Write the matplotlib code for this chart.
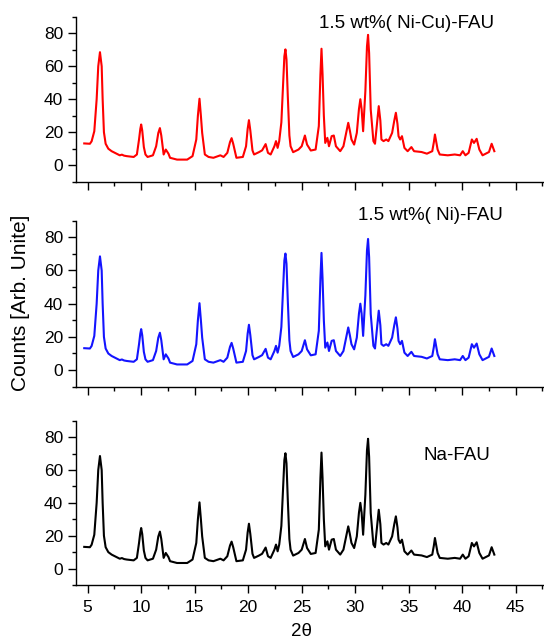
import numpy as np
import matplotlib
matplotlib.use('Agg')
import matplotlib.pyplot as plt
from matplotlib.ticker import MultipleLocator

# XRD pattern (same pattern in all three panels)
two_theta = [4.68, 5.21, 5.37, 5.62, 5.84, 5.99, 6.15, 6.31, 6.40, 6.52, 6.68, 6.93, 7.24,
             7.7, 8.0, 8.2, 8.4, 8.65, 9.3, 9.6,
             9.8, 9.92, 10.0, 10.1, 10.25, 10.4, 10.6, 11.1, 11.4, 11.6, 11.75, 11.88,
             11.97, 12.1, 12.3, 12.55, 12.7,
             13.35, 14.3, 14.8, 15.15, 15.3, 15.45, 15.58, 15.7, 15.95, 16.3, 16.75, 17.4,
             17.7, 18.05, 18.3, 18.45, 18.6, 18.9, 19.5, 19.8, 19.95, 20.07, 20.2, 20.4,
             20.55, 21.0, 21.3, 21.63, 21.85,
             22.1, 22.45, 22.6, 22.75, 22.9, 23.1, 23.25, 23.38, 23.48, 23.58, 23.7, 23.85,
             23.96, 24.2, 24.7, 25.0, 25.3, 25.5, 25.85, 26.3, 26.6, 26.75, 26.85, 26.95,
             27.07, 27.2, 27.4, 27.55, 27.8, 28.0, 28.2, 28.6, 28.9, 29.2, 29.35, 29.5,
             29.65, 29.9, 30.15, 30.35, 30.48, 30.6, 30.74, 30.95, 31.1, 31.2, 31.3, 31.45,
             31.7, 31.85, 32.05, 32.2, 32.35, 32.45, 32.65, 32.9, 33.1, 33.45, 33.65, 33.8,
             33.95, 34.05, 34.2, 34.37, 34.6, 34.9, 35.25, 35.5, 36.2, 36.7, 37.2, 37.35,
             37.45, 37.55, 37.7, 37.9, 38.65, 39.3, 39.8, 40.05, 40.3, 40.6, 40.9, 41.1,
             41.35, 41.6, 41.9, 42.2, 42.5, 42.75, 43.0]
counts = [13.2, 13.0, 14.5, 20.6, 40.0, 60.0, 68.5, 60.0, 40.0, 20.0, 13.0, 10.0, 8.5,
          7.0, 6.0, 6.4, 5.8, 5.5, 5.0, 6.5,
          15.6, 22.0, 24.7, 21.0, 11.0, 6.5, 5.0, 6.0, 11.5, 19.5, 22.5, 18.0,
          13.5, 6.5, 9.5, 7.0, 4.5,
          3.4, 3.4, 5.5, 15.6, 30.0, 40.3, 30.0, 19.6, 6.5, 5.0, 4.5, 6.0,
          5.0, 7.5, 14.0, 16.4, 13.0, 4.5, 5.0, 11.5, 22.0, 27.3, 21.0, 9.0,
          6.5, 7.9, 9.0, 12.8, 7.5,
          6.5, 11.5, 14.6, 10.5, 14.6, 26.0, 48.0, 66.0, 70.2, 64.0, 42.0, 18.0,
          11.5, 7.9, 9.5, 11.5, 18.0, 12.5, 8.9, 9.5, 23.7, 55.0, 70.6, 55.0,
          30.0, 13.5, 16.6, 11.5, 17.6, 18.0, 11.5, 8.5, 11.5, 21.0, 25.7, 21.0,
          15.6, 12.5, 19.6, 34.0, 40.0, 34.0, 20.6, 45.0, 72.0, 79.0, 68.0, 33.8,
          14.6, 13.0, 26.0, 35.8, 27.0, 15.6, 14.6, 15.6, 14.6, 19.6, 27.0, 31.8,
          25.0, 17.6, 15.6, 17.6, 10.5, 8.5, 11.0, 8.5, 8.0, 7.0, 8.5, 14.0,
          18.6, 15.0, 9.5, 6.5, 6.0, 6.5, 6.0, 8.5, 6.0, 7.5, 15.6, 13.5,
          16.0, 9.5, 6.0, 7.0, 8.0, 13.0, 8.5]

labels = ['1.5 wt%( Ni-Cu)-FAU', '1.5 wt%( Ni)-FAU', 'Na-FAU']
colors = ['#ff0000', '#1414ff', '#000000']
label_pos = [(0.707, 0.956), (0.760, 1.034), (0.815, 0.791)]

plt.rcParams['font.family'] = ['Liberation Sans', 'DejaVu Sans']

fig = plt.figure(figsize=(5.44, 6.43), dpi=100)
boxes = [[0.1397, 0.7174, 0.8585, 0.2566],
         [0.1397, 0.3986, 0.8585, 0.2582],
         [0.1397, 0.0902, 0.8585, 0.2555]]

for i in range(3):
    ax = fig.add_axes(boxes[i])
    ax.plot(two_theta, counts, color=colors[i], lw=1.5)
    ax.set_xlim(3.91, 47.55)
    ax.set_ylim(-10, 90)
    ax.spines['top'].set_visible(False)
    ax.spines['right'].set_visible(False)
    ax.spines['left'].set_linewidth(1.0)
    ax.spines['bottom'].set_linewidth(1.0)
    ax.xaxis.set_major_locator(MultipleLocator(5))
    ax.xaxis.set_minor_locator(MultipleLocator(2.5))
    ax.set_yticks([0, 20, 40, 60, 80])
    ax.yaxis.set_minor_locator(MultipleLocator(10))
    ax.tick_params(which='major', direction='out', length=5.8, width=1.0, labelsize=12.5)
    ax.tick_params(which='minor', direction='out', length=3.2, width=1.0)
    ax.tick_params(axis='x', which='major', pad=5)
    ax.text(label_pos[i][0], label_pos[i][1], labels[i], transform=ax.transAxes,
            ha='center', va='center', fontsize=13.5)
    if i < 2:
        ax.tick_params(axis='x', labelbottom=False)

fig.text(302 / 544, 1 - 632 / 643, '2θ', ha='center', va='center', fontsize=13.5)
fig.text(20.7 / 544, 1 - 302.5 / 643, 'Counts [Arb. Unite]', rotation=90,
         ha='center', va='center', fontsize=15)

fig.savefig('out.png', dpi=100)
